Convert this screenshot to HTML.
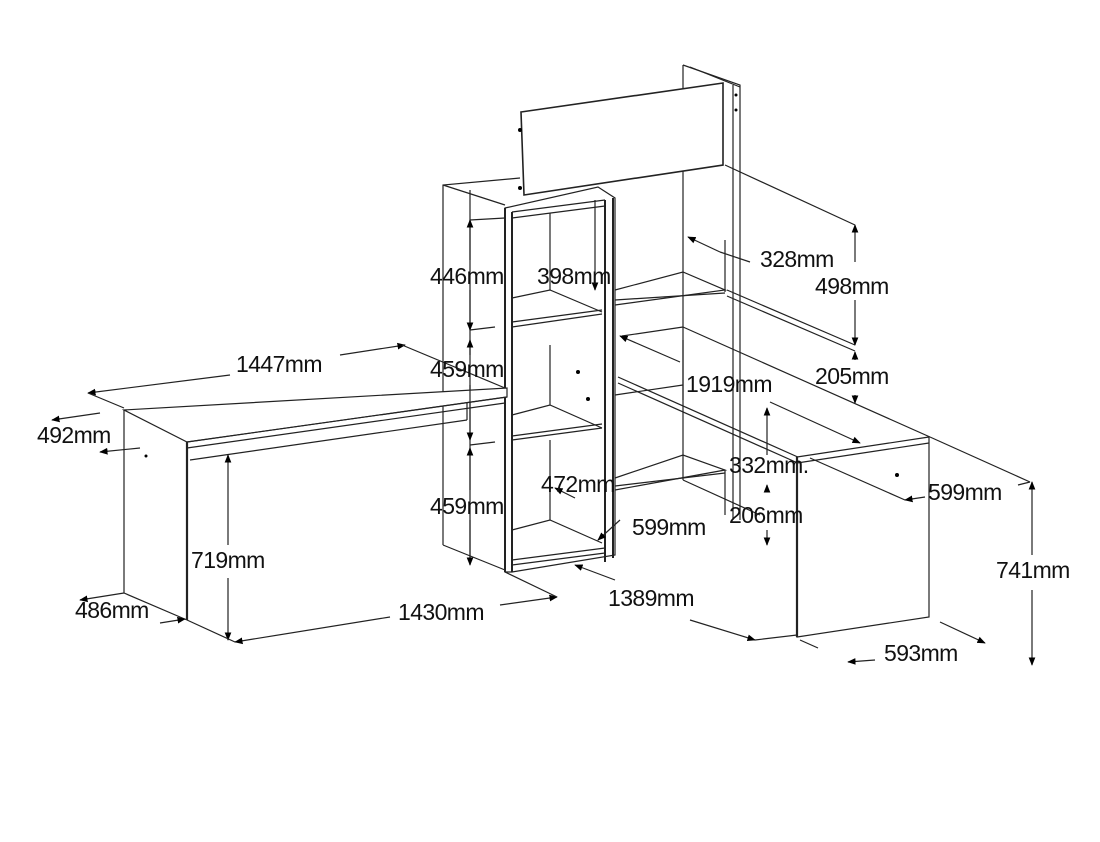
<!DOCTYPE html>
<html><head><meta charset="utf-8"><style>
html,body{margin:0;padding:0;background:#fff;}
svg{display:block}
text{font-family:"Liberation Sans",Arial,sans-serif;font-size:23px;fill:#111;letter-spacing:-0.6px}
</style></head><body>
<svg width="1100" height="842" viewBox="0 0 1100 842" xmlns="http://www.w3.org/2000/svg">
<defs>
<marker id="a" viewBox="0 0 10 10" refX="9" refY="5" markerWidth="7" markerHeight="7" orient="auto-start-reverse"><path d="M0,1 L10,5 L0,9 z" fill="#000"/></marker>
</defs>
<g stroke="#222" stroke-width="1.2" fill="none">
<!-- back tall panel -->
<polyline points="683,65 683,480"/>
<polyline points="683,65 740,85 740,520"/>
<line x1="733" y1="85" x2="733" y2="520"/>
<line x1="690" y1="67" x2="740" y2="87"/>
<!-- back panel board -->
<polygon points="521,112 723,83 723,165 524,195" fill="#fff" stroke-width="1.6"/>
<line x1="727" y1="290" x2="855" y2="345"/>
<line x1="727" y1="296" x2="855" y2="351"/>
<!-- left tall shelf -->
<polyline points="443,545 443,185 520,178"/>
<line x1="443" y1="185" x2="505" y2="205"/>
<line x1="470" y1="190" x2="470" y2="560"/>
<line x1="443" y1="545" x2="505" y2="570"/>
<!-- front shelf unit -->
<polygon points="505,208 598,187 615,198 615,555 512,572 505,572" fill="#fff"/>
<line x1="505" y1="208" x2="505" y2="572" stroke-width="2"/>
<line x1="512" y1="212" x2="512" y2="572" stroke-width="2"/>
<line x1="512" y1="212" x2="605" y2="200"/>
<line x1="605" y1="200" x2="605" y2="562" stroke-width="2"/>
<line x1="613" y1="198" x2="613" y2="558" stroke-width="2"/>
<line x1="512" y1="218" x2="605" y2="206"/>
<line x1="550" y1="213" x2="550" y2="290"/>
<polyline points="512,298 550,290 602,312"/>
<line x1="512" y1="327" x2="602" y2="314"/>
<line x1="512" y1="322" x2="602" y2="310"/>
<line x1="550" y1="345" x2="550" y2="405"/>
<polyline points="512,415 550,405 602,428"/>
<line x1="512" y1="440" x2="602" y2="428"/>
<line x1="512" y1="436" x2="602" y2="424"/>
<line x1="550" y1="440" x2="550" y2="520"/>
<polyline points="512,530 550,520 602,543"/>
<line x1="512" y1="560" x2="605" y2="548"/>
<line x1="512" y1="565" x2="605" y2="553"/>
<!-- right shelves behind -->
<polyline points="615,290 683,272 725,290 615,305"/>
<line x1="615" y1="300" x2="725" y2="293"/>
<polyline points="615,478 683,455 725,470 615,490"/>
<line x1="615" y1="486" x2="725" y2="473"/>
<line x1="725" y1="470" x2="725" y2="515"/>
<line x1="725" y1="240" x2="725" y2="292"/>
<line x1="683" y1="480" x2="760" y2="515"/>
<line x1="615" y1="395" x2="683" y2="385"/>
<line x1="683" y1="340" x2="683" y2="400"/>
<!-- right desk -->
<line x1="622" y1="336" x2="683" y2="327"/>
<line x1="683" y1="327" x2="930" y2="437"/>
<line x1="618" y1="377" x2="800" y2="458"/>
<line x1="618" y1="383" x2="800" y2="464"/>
<polygon points="797,457 929,437 929,617 797,637" fill="#fff"/>
<line x1="797" y1="457" x2="797" y2="637" stroke-width="2.2"/>
<line x1="797" y1="463" x2="929" y2="443"/>
<!-- left desk -->
<polygon points="124,410 507,388 507,397 187,442" fill="#fff"/>
<line x1="187" y1="442" x2="507" y2="397"/>
<line x1="187" y1="448" x2="505" y2="403"/>
<line x1="190" y1="460" x2="467" y2="420"/>
<line x1="467" y1="403" x2="467" y2="420"/>
<line x1="124" y1="410" x2="124" y2="593"/>
<line x1="187" y1="442" x2="187" y2="620" stroke-width="2.2"/>
<line x1="124" y1="593" x2="187" y2="620"/>
</g>
<!-- dimension lines -->
<g stroke="#222" stroke-width="1.2" fill="none">
<line x1="230" y1="375" x2="88" y2="393" marker-end="url(#a)"/>
<line x1="340" y1="355" x2="405" y2="345" marker-end="url(#a)"/>
<line x1="88" y1="393" x2="124" y2="408"/>
<line x1="402" y1="345" x2="505" y2="388"/>
<line x1="100" y1="413" x2="52" y2="420" marker-end="url(#a)"/>
<line x1="140" y1="448" x2="100" y2="452" marker-end="url(#a)"/>
<line x1="228" y1="545" x2="228" y2="455" marker-end="url(#a)"/>
<line x1="228" y1="578" x2="228" y2="640" marker-end="url(#a)"/>
<line x1="187" y1="620" x2="235" y2="642"/>
<line x1="390" y1="617" x2="235" y2="642" marker-end="url(#a)"/>
<line x1="500" y1="605" x2="557" y2="597" marker-end="url(#a)"/>
<line x1="505" y1="572" x2="557" y2="597"/>
<line x1="160" y1="623" x2="185" y2="619" marker-end="url(#a)"/>
<line x1="124" y1="593" x2="80" y2="600" marker-end="url(#a)"/>
<line x1="470" y1="260" x2="470" y2="220" marker-end="url(#a)"/>
<line x1="470" y1="290" x2="470" y2="330" marker-end="url(#a)"/>
<line x1="470" y1="340" x2="470" y2="355" marker-start="url(#a)"/>
<line x1="470" y1="385" x2="470" y2="440" marker-end="url(#a)"/>
<line x1="470" y1="448" x2="470" y2="490" marker-start="url(#a)"/>
<line x1="470" y1="520" x2="470" y2="565" marker-end="url(#a)"/>
<line x1="470" y1="220" x2="505" y2="218"/>
<line x1="470" y1="330" x2="495" y2="327"/>
<line x1="470" y1="445" x2="495" y2="442"/>
<line x1="595" y1="290" x2="595" y2="200" marker-start="url(#a)"/>
<line x1="555" y1="488" x2="575" y2="498" marker-start="url(#a)"/>
<line x1="620" y1="520" x2="598" y2="540" marker-end="url(#a)"/>
<line x1="575" y1="565" x2="615" y2="580" marker-start="url(#a)"/>
<line x1="690" y1="620" x2="755" y2="640" marker-end="url(#a)"/>
<line x1="755" y1="640" x2="797" y2="635"/>
<line x1="688" y1="237" x2="720" y2="252" marker-start="url(#a)"/>
<line x1="720" y1="252" x2="750" y2="262"/>
<line x1="855" y1="262" x2="855" y2="225" marker-end="url(#a)"/>
<line x1="855" y1="300" x2="855" y2="345" marker-end="url(#a)"/>
<line x1="855" y1="352" x2="855" y2="360" marker-start="url(#a)"/>
<line x1="855" y1="395" x2="855" y2="403" marker-end="url(#a)"/>
<line x1="725" y1="165" x2="855" y2="225"/>
<line x1="620" y1="336" x2="680" y2="362" marker-start="url(#a)"/>
<line x1="770" y1="402" x2="860" y2="443" marker-end="url(#a)"/>
<line x1="767" y1="455" x2="767" y2="408" marker-end="url(#a)"/>
<line x1="767" y1="485" x2="767" y2="492" marker-start="url(#a)"/>
<line x1="767" y1="530" x2="767" y2="545" marker-end="url(#a)"/>
<line x1="930" y1="437" x2="1030" y2="482"/>
<line x1="810" y1="458" x2="905" y2="500" />
<line x1="925" y1="497" x2="905" y2="500" marker-end="url(#a)"/>
<line x1="1032" y1="555" x2="1032" y2="482" marker-end="url(#a)"/>
<line x1="1032" y1="590" x2="1032" y2="665" marker-end="url(#a)"/>
<line x1="1018" y1="485" x2="1030" y2="482"/>
<line x1="940" y1="622" x2="985" y2="643" marker-end="url(#a)"/>
<line x1="875" y1="660" x2="848" y2="662" marker-end="url(#a)"/>
<line x1="800" y1="640" x2="818" y2="648"/>
</g>
<g>
<text x="236" y="372">1447mm</text>
<text x="37" y="443">492mm</text>
<text x="191" y="568">719mm</text>
<text x="75" y="618">486mm</text>
<text x="398" y="620">1430mm</text>
<text x="430" y="284">446mm</text>
<text x="537" y="284">398mm</text>
<text x="430" y="377">459mm</text>
<text x="430" y="514">459mm</text>
<text x="541" y="492">472mm</text>
<text x="632" y="535">599mm</text>
<text x="608" y="606">1389mm</text>
<text x="760" y="267">328mm</text>
<text x="815" y="294">498mm</text>
<text x="686" y="392">1919mm</text>
<text x="815" y="384">205mm</text>
<text x="729" y="473">332mm.</text>
<text x="729" y="523">206mm</text>
<text x="928" y="500">599mm</text>
<text x="996" y="578">741mm</text>
<text x="884" y="661">593mm</text>
</g>
<g fill="#000">
<circle cx="146" cy="456" r="1.5"/><circle cx="578" cy="372" r="2"/><circle cx="588" cy="399" r="2"/><circle cx="897" cy="475" r="2"/><circle cx="520" cy="130" r="2"/><circle cx="520" cy="188" r="2"/><circle cx="736" cy="95" r="1.5"/><circle cx="736" cy="110" r="1.5"/>
</g>
</svg>
</body></html>
